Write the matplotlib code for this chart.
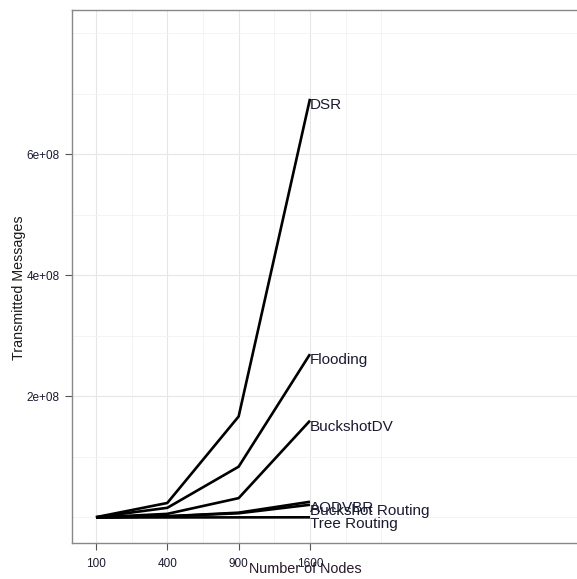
import numpy as np
import matplotlib
matplotlib.use('Agg')
import matplotlib.pyplot as plt

plt.rcParams['font.family'] = ['Liberation Sans', 'DejaVu Sans']

#----Data----#
nodes = [100, 400, 900, 1600]
protocols = ['DSR', 'Flooding', 'BuckshotDV', 'AODVBR', 'Buckshot Routing', 'Tree Routing']
dsr = [0.005e8, 0.24e8, 1.67e8, 6.92e8]
flooding = [0.005e8, 0.16e8, 0.84e8, 2.70e8]
buckshot_dv = [0.003e8, 0.06e8, 0.32e8, 1.60e8]
aodvbr = [0.002e8, 0.02e8, 0.08e8, 0.26e8]
buckshot_routing = [0.002e8, 0.02e8, 0.07e8, 0.21e8]
tree_routing = [0.0, 0.001e8, 0.002e8, 0.003e8]
series = [dsr, flooding, buckshot_dv, aodvbr, buckshot_routing, tree_routing]

y_breaks = [2e8, 4e8, 6e8]
y_labels = ['2e+08', '4e+08', '6e+08']

#----Figure----#
W, H = 577, 579
fig = plt.figure(figsize=(W / 100, H / 100), dpi=100)
left, right, top, bottom = 72, 590, 10, 543
ax = fig.add_axes([left / W, 1 - bottom / H, (right - left) / W, (bottom - top) / H])

sx = np.sqrt(nodes)
text_col = '#1a1a33'

for name, vals in zip(protocols, series):
    ax.plot(sx, vals, color='black', lw=1.9, solid_capstyle='butt', zorder=3)
    ax.annotate(name, (sx[-1], vals[-1]), xytext=(0, -4.5), textcoords='offset points',
                ha='left', va='center', fontsize=11, color=text_col, zorder=4)

ax.set_xlim(6.64, 40 + (right - 310) / (214 / 30))
ax.set_ylim(-0.4215e8, 8.388e8)

ax.set_xticks(sx)
ax.set_xticklabels([str(n) for n in nodes])
ax.set_xticks([15, 25, 35, 45, 50], minor=True)
ax.set_yticks(y_breaks)
ax.set_yticklabels(y_labels)
ax.set_yticks([0, 1e8, 3e8, 5e8, 7e8, 8e8], minor=True)

ax.grid(True, which='major', color='#e6e6e6', lw=0.8, zorder=0)
ax.grid(True, which='minor', color='#f3f3f3', lw=0.6, zorder=0)
ax.tick_params(which='minor', length=0)
ax.tick_params(which='major', length=5, width=0.8, color='#555555', labelsize=8.5,
               labelcolor=text_col, pad=4)
ax.tick_params(axis='x', pad=6)

for s in ['left', 'bottom', 'top']:
    ax.spines[s].set_color('#888888')
    ax.spines[s].set_linewidth(1.0)
ax.spines['right'].set_visible(False)

fig.text(305 / W, 1 - 569 / H, 'Number of Nodes', ha='center', va='center',
         fontsize=10.4, color='#2a1a2a')
fig.text(19 / W, 1 - 288 / H, 'Transmitted Messages', ha='center', va='center',
         rotation=90, fontsize=10.3, color='#1a1a1a')

fig.savefig('out.png', dpi=100)
